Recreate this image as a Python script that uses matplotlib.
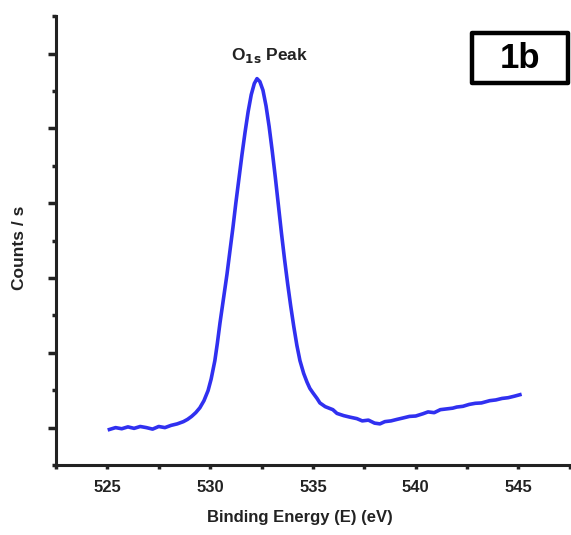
import matplotlib.pyplot as plt
from matplotlib.patches import Rectangle
from matplotlib.ticker import MultipleLocator

# O1s spectrum (binding energy in eV, counts in arbitrary units)
energy = [525.1, 525.4, 525.7, 526.0, 526.3, 526.6, 526.9, 527.2, 527.5, 527.8,
          528.1, 528.4, 528.7, 528.9, 529.1, 529.3, 529.5, 529.7, 529.9, 530.05,
          530.23, 530.35, 530.48, 530.65, 530.82, 530.97, 531.11, 531.25, 531.4, 531.55,
          531.7, 531.85, 532.0, 532.15, 532.28, 532.42, 532.57, 532.72, 532.87, 533.02,
          533.17, 533.32, 533.47, 533.62, 533.77, 533.92, 534.07, 534.22, 534.37, 534.55,
          534.71, 534.85, 535.0, 535.2, 535.34, 535.6, 535.97, 536.17, 536.5, 536.8,
          537.14, 537.4, 537.7, 538.0, 538.26, 538.5, 538.8, 539.09, 539.4, 539.7,
          540.0, 540.35, 540.6, 540.9, 541.2, 541.5, 541.8, 542.0, 542.3, 542.6,
          542.9, 543.2, 543.6, 543.9, 544.2, 544.5, 544.8, 545.07]
counts = [-0.05, 0.0, -0.03, 0.02, -0.02, 0.03, 0.0, -0.04, 0.03, 0.0,
          0.06, 0.10, 0.16, 0.22, 0.30, 0.40, 0.53, 0.72, 0.99, 1.30,
          1.79, 2.25, 2.80, 3.45, 4.10, 4.75, 5.35, 6.00, 6.65, 7.30,
          7.90, 8.45, 8.90, 9.20, 9.33, 9.25, 9.02, 8.60, 8.05, 7.40,
          6.70, 5.95, 5.20, 4.50, 3.85, 3.25, 2.70, 2.20, 1.79, 1.45,
          1.22, 1.05, 0.93, 0.78, 0.66, 0.56, 0.48, 0.38, 0.32, 0.28,
          0.24, 0.18, 0.20, 0.12, 0.10, 0.16, 0.18, 0.22, 0.26, 0.30,
          0.31, 0.37, 0.42, 0.40, 0.48, 0.50, 0.52, 0.55, 0.57, 0.62,
          0.65, 0.66, 0.72, 0.74, 0.78, 0.80, 0.84, 0.88]

dark = '#222222'
plt.rcParams['font.family'] = ['Liberation Sans', 'DejaVu Sans']

fig = plt.figure(figsize=(5.71, 5.35), dpi=100)
ax = fig.add_axes([0.098, 0.1308, 0.900, 0.839])

ax.plot(energy, counts, color='#3030f0', lw=2.6)

ax.set_xlim(522.5, 547.5)
ax.set_ylim(-1, 11)

for s in ['top', 'right']:
    ax.spines[s].set_visible(False)
for s in ['left', 'bottom']:
    ax.spines[s].set_linewidth(2.2)
    ax.spines[s].set_color(dark)

ax.xaxis.set_major_locator(MultipleLocator(5))
ax.xaxis.set_minor_locator(MultipleLocator(2.5))
ax.yaxis.set_major_locator(MultipleLocator(2))
ax.yaxis.set_minor_locator(MultipleLocator(1))
ax.tick_params(axis='x', which='both', direction='out', length=3, width=2.5, color=dark,
               labelsize=12, labelcolor=dark, pad=8)
ax.tick_params(axis='y', which='major', direction='out', length=6, width=2.5, color=dark)
ax.tick_params(axis='y', which='minor', direction='out', length=3, width=2.5, color=dark)
ax.set_yticklabels([])
for lab in ax.get_xticklabels():
    lab.set_fontweight('bold')

ax.set_xlabel('Binding Energy (E) (eV)', fontsize=12, fontweight='bold', color=dark)
ax.xaxis.set_label_coords(0.475, -0.10)
ax.set_ylabel('Counts / s', fontsize=12.5, fontweight='bold', color=dark)
ax.yaxis.set_label_coords(-0.056, 0.483)

ax.text(532.9, 9.95, r'O$_{\mathbf{1s}}$ Peak', fontsize=12.5, fontweight='bold',
        color=dark, ha='center', va='center')

# panel tag in the top right corner
fig.patches.append(Rectangle((472 / 571, 1 - 83 / 535), 96 / 571, 50 / 535,
                             transform=fig.transFigure, fill=False, lw=3.2,
                             edgecolor='black', joinstyle='round'))
fig.text(520 / 571, 1 - 58 / 535, '1b', fontsize=25, fontweight='bold',
         ha='center', va='center')

fig.savefig('out.png', dpi=100)
